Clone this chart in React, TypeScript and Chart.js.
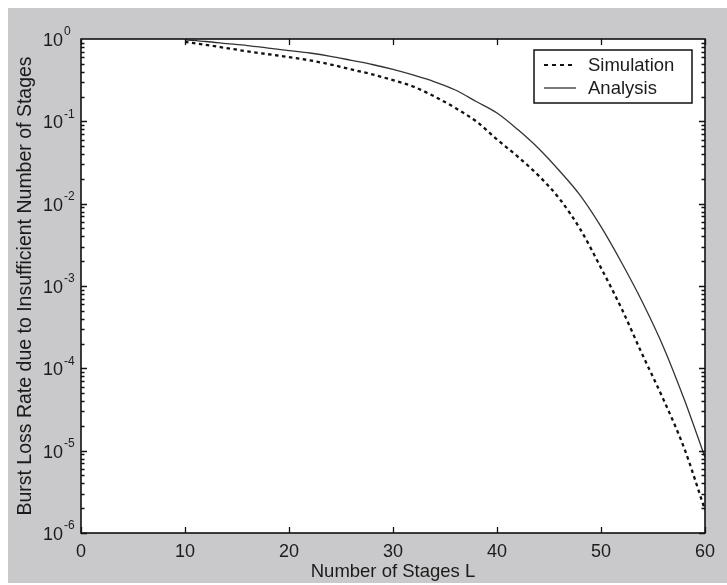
import React, { useEffect, useRef } from "react";
import { Chart, registerables } from "chart.js";

Chart.register(...registerables);

// ---- data ----
const stages = [10, 12, 14, 16, 18, 20, 22, 24, 26, 28, 30, 32, 34, 36, 38, 40, 42, 44, 46, 48, 50, 52, 54, 56, 58, 60];
const simulation = [
  0.92, 0.85, 0.776, 0.708, 0.653, 0.603, 0.55, 0.49, 0.427, 0.372, 0.316, 0.263, 0.2, 0.145, 0.1,
  0.0603, 0.0372, 0.0219, 0.0115, 4.9e-3, 1.66e-3, 5.25e-4, 1.45e-4, 4.2e-5, 1.07e-5, 1.9e-6,
];
const analysis = [
  0.977, 0.933, 0.881, 0.832, 0.776, 0.724, 0.676, 0.617, 0.55, 0.49, 0.427, 0.363, 0.302, 0.24, 0.174,
  0.126, 0.0794, 0.0468, 0.0251, 0.0126, 5.25e-3, 1.9e-3, 6.3e-4, 1.82e-4, 4.2e-5, 8.3e-6,
];
const seriesNames = ["Simulation", "Analysis"];
const xTicks = [0, 10, 20, 30, 40, 50, 60];
const yExponents = [-6, -5, -4, -3, -2, -1, 0];
const xTitle = "Number of Stages L";
const yTitle = "Burst Loss Rate due to Insufficient Number of Stages";

const FONT = "'Liberation Sans', Arial, Helvetica, sans-serif";
const INK = "#1b1b1b";

const framePlugin = {
  id: "matlabFrame",
  beforeDatasetsDraw(chart: any) {
    const { ctx, chartArea: a } = chart;
    ctx.save();
    ctx.fillStyle = "#ffffff";
    ctx.fillRect(a.left, a.top, a.right - a.left, a.bottom - a.top);
    ctx.restore();
  },
  afterDraw(chart: any) {
    const { ctx, chartArea: a, scales } = chart;
    const xs = scales.x;
    const ys = scales.y;
    ctx.save();
    ctx.strokeStyle = "#111";
    // ticks on x (bottom and top, inward)
    ctx.lineWidth = 1.3;
    for (const v of xTicks) {
      const px = Math.round(xs.getPixelForValue(v)) + 0.5;
      ctx.beginPath();
      ctx.moveTo(px, a.bottom);
      ctx.lineTo(px, a.bottom - 6);
      ctx.moveTo(px, a.top);
      ctx.lineTo(px, a.top + 6);
      ctx.stroke();
    }
    // ticks on y (left and right, inward), majors and minors
    for (let i = 0; i < yExponents.length - 1; i++) {
      const e = yExponents[i];
      for (let m = 1; m <= 9; m++) {
        const v = m * Math.pow(10, e);
        const py = Math.round(ys.getPixelForValue(v)) + 0.5;
        const len = m === 1 ? 6 : 3.5;
        ctx.beginPath();
        ctx.moveTo(a.left, py);
        ctx.lineTo(a.left + len, py);
        ctx.moveTo(a.right, py);
        ctx.lineTo(a.right - len, py);
        ctx.stroke();
      }
    }
    // frame
    ctx.lineWidth = 1.6;
    ctx.strokeRect(a.left, a.top, a.right - a.left, a.bottom - a.top);

    // y tick labels 10^n
    ctx.fillStyle = INK;
    for (const e of yExponents) {
      const py = ys.getPixelForValue(Math.pow(10, e));
      ctx.font = `18px ${FONT}`;
      ctx.textAlign = "right";
      ctx.textBaseline = "middle";
      ctx.fillText("10", a.left - 18, py + 2);
      ctx.font = `12px ${FONT}`;
      ctx.textAlign = "left";
      ctx.fillText(String(e), a.left - 17, py - 7);
    }

    // legend box
    const bx = a.right - 171;
    const by = a.top + 11;
    const bw = 158;
    const bh = 53;
    ctx.fillStyle = "#ffffff";
    ctx.fillRect(bx, by, bw, bh);
    ctx.lineWidth = 1.5;
    ctx.strokeStyle = "#111";
    ctx.strokeRect(bx, by, bw, bh);
    const rows = [
      { name: seriesNames[0], dash: [4, 4], width: 2.2, color: "#111" },
      { name: seriesNames[1], dash: [], width: 1.3, color: "#333" },
    ];
    rows.forEach((r, i) => {
      const cy = by + 15 + i * 23;
      ctx.save();
      ctx.setLineDash(r.dash);
      ctx.lineWidth = r.width;
      ctx.strokeStyle = r.color;
      ctx.beginPath();
      ctx.moveTo(bx + 10, cy);
      ctx.lineTo(bx + 42, cy);
      ctx.stroke();
      ctx.restore();
      ctx.fillStyle = INK;
      ctx.font = `18.5px ${FONT}`;
      ctx.textAlign = "left";
      ctx.textBaseline = "middle";
      ctx.fillText(r.name, bx + 54, cy + 1);
    });
    ctx.restore();
  },
};

export default function App() {
  const ref = useRef<HTMLCanvasElement | null>(null);
  useEffect(() => {
    if (!ref.current) return;
    const chart = new Chart(ref.current, {
      type: "line",
      data: {
        datasets: [
          {
            label: seriesNames[0],
            data: stages.map((x, i) => ({ x, y: simulation[i] })),
            borderColor: "#111",
            borderWidth: 2.3,
            borderDash: [3.5, 3.5],
            pointRadius: 0,
            cubicInterpolationMode: "monotone",
            fill: false,
          },
          {
            label: seriesNames[1],
            data: stages.map((x, i) => ({ x, y: analysis[i] })),
            borderColor: "#333",
            borderWidth: 1.3,
            pointRadius: 0,
            cubicInterpolationMode: "monotone",
            fill: false,
          },
        ],
      },
      options: {
        animation: false,
        responsive: true,
        maintainAspectRatio: false,
        layout: { padding: { top: 31, right: 22, left: 0, bottom: 0 } },
        plugins: { legend: { display: false }, tooltip: { enabled: false } },
        scales: {
          x: {
            type: "linear",
            min: 0,
            max: 60,
            afterBuildTicks: (s: any) => {
              s.ticks = xTicks.map((v) => ({ value: v }));
            },
            afterFit: (s: any) => {
              s.height = 50;
            },
            grid: { display: false, drawTicks: false },
            border: { display: false },
            ticks: { color: INK, font: { size: 18, family: FONT }, padding: 8, maxRotation: 0 },
            title: {
              display: true,
              text: xTitle,
              color: INK,
              font: { size: 18.5, family: FONT },
              padding: { top: 0, bottom: 0 },
            },
          },
          y: {
            type: "logarithmic",
            min: 1e-6,
            max: 1,
            afterFit: (s: any) => {
              s.width = 73;
            },
            grid: { display: false, drawTicks: false },
            border: { display: false },
            ticks: { display: false },
            title: {
              display: true,
              text: yTitle,
              color: INK,
              font: { size: 19.5, family: FONT },
              padding: { top: 6, bottom: 0 },
            },
          },
        },
      },
      plugins: [framePlugin],
    } as any);
    return () => chart.destroy();
  }, []);
  return (
    <div
      style={{
        position: "absolute",
        left: 8,
        top: 8,
        width: 719,
        height: 575,
        background: "#c9c9cb",
      }}
    >
      <canvas ref={ref} />
    </div>
  );
}
